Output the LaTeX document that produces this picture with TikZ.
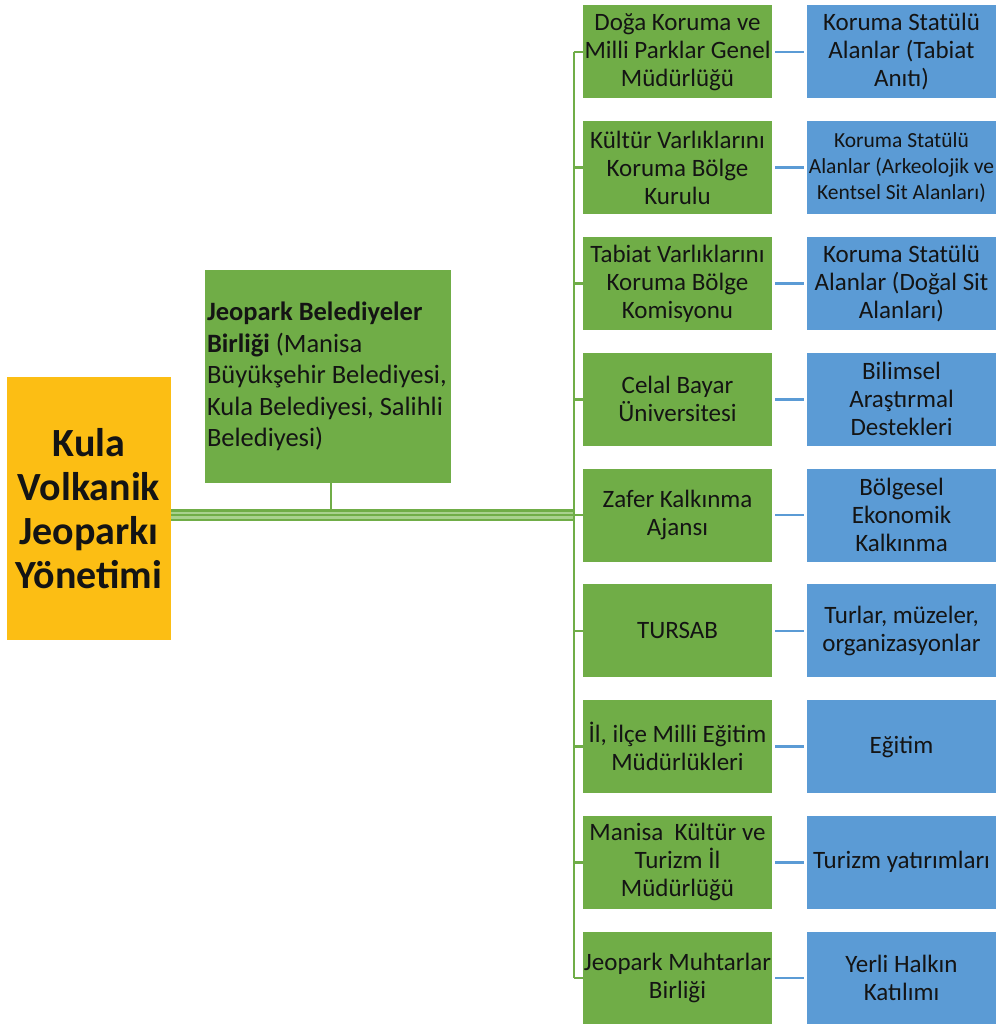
\documentclass[tikz,border=0pt]{standalone}
\usepackage{fontspec}
\setmainfont{Carlito}
\usetikzlibrary{positioning}

\definecolor{grn}{RGB}{112,173,71}
\definecolor{grnlight}{RGB}{169,209,142}
\definecolor{blu}{RGB}{91,155,213}
\definecolor{orng}{RGB}{252,190,20}
\definecolor{ink}{RGB}{20,20,20}

\tikzset{
  unit/.style={fill=grn, text=ink, minimum width=189pt, minimum height=93pt,
    inner sep=0pt, align=center, font=\fontsize{25}{28}\selectfont},
  role/.style={unit, fill=blu},
  link/.style={draw=blu, line width=2.5pt, shorten <=3pt, shorten >=3pt},
  bus/.style={draw=grn, line width=2.5pt},
  trunk/.style={draw=grn, line width=2.5pt, double=grnlight, double distance=7pt},
}

\begin{document}
\begin{tikzpicture}[x=1pt,y=-1pt,node distance=115.75pt and 224pt,on grid]
    \useasboundingbox (0,0) rectangle (996,1024);
    \node[fill=orng, text=ink, minimum width=164pt, minimum height=263pt, inner sep=0pt,
          align=center, font=\fontsize{40}{44}\selectfont\bfseries]
          (kula) at (89,508.5) {Kula\\Volkanik\\Jeoparkı\\Yönetimi};
    \node[fill=grn, text=ink, minimum width=246pt, minimum height=213pt, text width=242pt,
          inner xsep=2pt, inner ysep=0pt, align=flush left, font=\fontsize{26.5}{31.5}\selectfont]
          (birlik) at (328,376.5) {\textbf{Jeopark Belediyeler}\\\textbf{Birliği} (Manisa\\Büyükşehir Belediyesi,\\Kula Belediyesi, Salihli\\Belediyesi)};

    \node[unit]   (g_1) at (677.5,52)   {Doğa Koruma ve\\Milli Parklar Genel\\Müdürlüğü};
    \node[unit]   (g_2) [below=of g_1] {Kültür Varlıklarını\\Koruma Bölge\\Kurulu};
    \node[unit]   (g_3) [below=of g_2] {Tabiat Varlıklarını\\Koruma Bölge\\Komisyonu};
    \node[unit]   (g_4) [below=of g_3] {Celal Bayar\\Üniversitesi};
    \node[unit]   (g_5) [below=of g_4] {Zafer Kalkınma\\Ajansı};
    \node[unit]   (g_6) [below=of g_5] {TURSAB};
    \node[unit]   (g_7) [below=of g_6] {İl, ilçe Milli Eğitim\\Müdürlükleri};
    \node[unit]   (g_8) [below=of g_7] {Manisa\ \ Kültür ve\\Turizm İl\\Müdürlüğü};
    \node[unit]   (g_9) [below=of g_8] {Jeopark Muhtarlar\\Birliği};

    \node[role]   (b_1) [right=of g_1] {Koruma Statülü\\Alanlar (Tabiat\\Anıtı)};
    \node[role, font=\fontsize{21.5}{26}\selectfont]
                  (b_2) [right=of g_2] {Koruma Statülü\\Alanlar (Arkeolojik ve\\Kentsel Sit Alanları)};
    \node[role]   (b_3) [right=of g_3] {Koruma Statülü\\Alanlar (Doğal Sit\\Alanları)};
    \node[role]   (b_4) [right=of g_4] {Bilimsel\\Araştırmal\\Destekleri};
    \node[role]   (b_5) [right=of g_5] {Bölgesel\\Ekonomik\\Kalkınma};
    \node[role]   (b_6) [right=of g_6] {Turlar, müzeler,\\organizasyonlar};
    \node[role]   (b_7) [right=of g_7] {Eğitim};
    \node[role]   (b_8) [right=of g_8] {Turizm yatırımları};
    \node[role]   (b_9) [right=of g_9] {Yerli Halkın\\Katılımı};

    \coordinate (bus_top) at ([xshift=-9pt]g_1.west);
    \coordinate (bus_bot) at ([xshift=-9pt]g_9.west);

    % municipalities into the main trunk
    \draw[bus, line width=2pt] ([xshift=3pt]birlik.south) -- ([xshift=3pt]birlik.south |- g_5);
    \draw[trunk] (kula.east |- g_5) -- (g_5 -| bus_top);
    \draw[bus] (kula.east |- g_5) -- (g_5 -| bus_top);

    % vertical bus with ticks
    \draw[bus] (bus_top) -- (bus_bot);
    \path[bus]
     (bus_top)        edge (g_1)
     (g_2 -| bus_top) edge (g_2)
     (g_3 -| bus_top) edge (g_3)
     (g_4 -| bus_top) edge (g_4)
     (g_5 -| bus_top) edge (g_5)
     (g_6 -| bus_top) edge (g_6)
     (g_7 -| bus_top) edge (g_7)
     (g_8 -| bus_top) edge (g_8)
     (bus_bot)        edge (g_9);

    \path[link]
     (g_1) edge (b_1)
     (g_2) edge (b_2)
     (g_3) edge (b_3)
     (g_4) edge (b_4)
     (g_5) edge (b_5)
     (g_6) edge (b_6)
     (g_7) edge (b_7)
     (g_8) edge (b_8)
     (g_9) edge (b_9);
\end{tikzpicture}
\end{document}
